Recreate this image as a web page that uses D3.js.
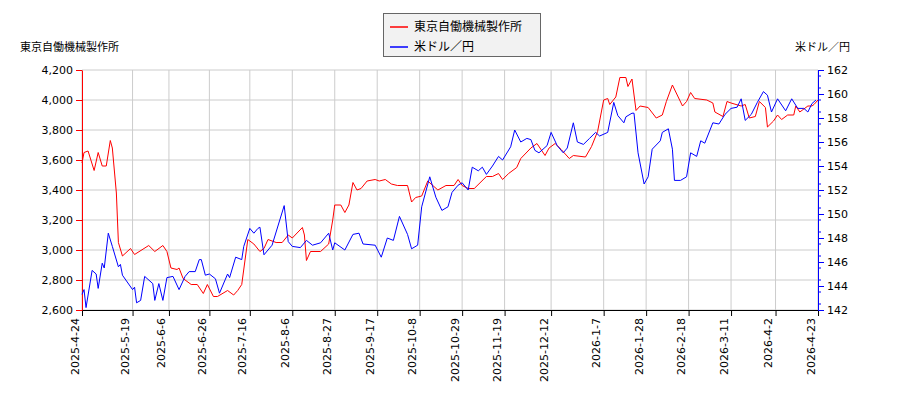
<!DOCTYPE html>
<html><head><meta charset="utf-8">
<script src="https://cdn.jsdelivr.net/npm/d3@7"></script>
<style>body{margin:0;background:#fff;font-family:"Noto Sans CJK JP","DejaVu Sans",sans-serif;}</style>
</head><body><svg id="c" width="900" height="400"></svg>
<script>
// days since 2025-04-24
var stockDays = [0,1,3,6,8,10,12,14,15,17,18,20,24,26,33,36,40,42,44,47,48,50,54,57,60,62,65,67,72,75,77,79,82,85,88,90,92,96,99,102,104,109,110,111,113,118,122,124,125,128,130,132,134,136,138,141,145,147,150,153,156,161,163,165,168,171,176,180,182,184,186,188,191,194,200,203,206,208,211,215,217,222,225,229,231,234,237,241,243,249,252,255,258,260,261,264,266,269,270,272,274,276,280,284,287,289,292,297,299,301,303,309,312,313,317,319,321,326,328,330,333,335,338,339,342,344,346,349,352,353,355,359,361,362,364];
var stockVals = [3580,3650,3660,3530,3650,3560,3560,3730,3680,3380,3050,2960,3010,2970,3030,2990,3030,2990,2880,2870,2880,2810,2770,2770,2710,2770,2690,2690,2730,2700,2730,2770,3070,3040,2990,3010,3070,3050,3050,3100,3080,3150,3100,2930,2990,2990,3040,3200,3300,3300,3250,3300,3450,3400,3410,3460,3470,3460,3470,3440,3430,3430,3320,3350,3360,3460,3400,3430,3430,3430,3470,3430,3410,3410,3490,3490,3510,3470,3510,3550,3610,3680,3710,3630,3680,3710,3670,3610,3630,3620,3690,3790,4000,4010,3970,4020,4150,4150,4090,4140,3930,3960,3950,3880,3900,3990,4100,3960,3990,4050,4010,4000,3980,3920,3890,3990,3980,3960,3970,3880,3890,3990,3950,3820,3860,3900,3870,3900,3900,3960,3920,3960,3960,3970,4000];
var fxDays = [0,1,2,5,7,8,10,11,13,15,18,19,20,25,26,27,29,31,35,36,38,40,42,45,48,51,53,56,58,59,61,63,66,68,72,73,76,79,80,83,85,87,88,90,94,96,100,102,104,108,111,114,118,122,124,125,130,134,137,139,145,148,151,154,157,161,163,166,168,172,175,178,181,183,186,188,191,193,196,198,200,203,206,208,212,214,217,220,222,224,226,230,232,235,238,240,243,245,248,251,254,256,260,263,265,268,269,272,273,275,278,280,282,286,287,290,292,293,296,299,301,304,306,308,312,315,318,321,324,326,328,331,334,337,339,341,344,348,351,354,357,359,361,363];
var fxVals = [143.3,143.7,142.2,145.3,145.0,143.8,145.9,145.5,148.4,147.3,145.6,145.8,144.9,143.7,143.9,142.6,142.8,144.8,144.2,142.8,144.2,142.8,144.7,144.8,143.7,144.8,145.2,145.2,146.2,146.2,144.9,145.0,144.6,143.4,145.0,144.7,146.4,146.2,147.3,148.8,148.4,148.8,148.9,146.6,147.4,148.5,150.7,147.7,147.3,147.2,147.8,147.4,147.6,148.4,147.0,147.6,147.0,148.3,148.4,147.5,147.4,146.4,148.0,147.8,149.8,148.3,147.1,147.4,150.6,153.1,151.4,150.3,150.6,151.8,152.4,152.6,152.0,153.9,153.6,153.9,153.3,154.0,154.8,154.5,155.6,157.0,156.0,156.3,156.2,155.3,155.1,155.7,156.8,155.7,155.1,155.5,157.6,156.0,155.8,156.3,156.8,156.5,156.8,159.3,158.2,157.6,158.1,158.4,158.4,155.1,152.5,153.1,155.4,156.1,156.8,157.1,155.4,152.8,152.8,153.1,155.1,154.8,156.1,155.9,157.6,157.5,158.3,158.8,158.9,159.6,157.8,158.3,159.3,160.2,159.9,158.5,159.6,158.6,159.6,158.8,158.8,158.5,159.2,159.5];
var leftTicks = [2600,2800,3000,3200,3400,3600,3800,4000,4200];
var rightTicks = [142,144,146,148,150,152,154,156,158,160,162];
var xTickLabels = ["2025-4-24","2025-5-19","2025-6-6","2025-6-26","2025-7-16","2025-8-6","2025-8-27","2025-9-17","2025-10-8","2025-10-29","2025-11-19","2025-12-12","2026-1-7","2026-1-28","2026-2-18","2026-3-11","2026-4-2","2026-4-23"];
var stockName = "東京自働機械製作所", fxName = "米ドル／円";

var start = new Date(2025,3,24);
var day = function(n){ return d3.timeDay.offset(start, n); };
var svg = d3.select("#c");
var L = 82, R = 818, T = 70, B = 310;
var x = d3.scaleLinear().domain([0,364]).range([L,R]);
var yL = d3.scaleLinear().domain([2600,4200]).range([B,T]);
var yR = d3.scaleLinear().domain([142,162]).range([B,T]);
var parse = d3.timeParse("%Y-%m-%d");
var xt = xTickLabels.map(function(s){ return d3.timeDay.count(start, parse(s)); });

// grid
svg.append("g").selectAll("line").data(xt).enter().append("line")
  .attr("x1", function(d){return x(d);}).attr("x2", function(d){return x(d);})
  .attr("y1", T).attr("y2", B).attr("stroke", "#ccc");
svg.append("g").selectAll("line").data(leftTicks).enter().append("line")
  .attr("x1", L).attr("x2", R).attr("y1", function(d){return yL(d);}).attr("y2", function(d){return yL(d);})
  .attr("stroke", "#ccc");

// axes
var ax = svg.append("g").attr("transform","translate(0,"+B+")")
  .call(d3.axisBottom(x).tickValues(xt).tickFormat(function(d,i){return xTickLabels[i];}).tickSizeOuter(0));
ax.selectAll("text").attr("transform","rotate(-90)").attr("text-anchor","end").attr("x",-8).attr("y",-4).attr("dy",0);
var al = svg.append("g").attr("transform","translate("+L+",0)").call(d3.axisLeft(yL).tickValues(leftTicks).tickSizeOuter(0));
al.select(".domain").attr("stroke","red"); al.selectAll("line").attr("stroke","red");
var ar = svg.append("g").attr("transform","translate("+R+",0)").call(d3.axisRight(yR).tickValues(rightTicks).tickSizeOuter(0));
ar.select(".domain").attr("stroke","blue"); ar.selectAll("line").attr("stroke","blue");
svg.selectAll(".tick text").attr("font-size",11).attr("fill","#000").attr("font-family","DejaVu Sans");
// minor ticks on right
svg.append("g").selectAll("line").data(d3.range(142,162,1)).enter().append("line")
  .attr("x1",R).attr("x2",R+3).attr("y1",function(d){return yR(d+0.5)+0;}).attr("y2",function(d){return yR(d+0.5);}).attr("stroke","blue");

// lines
var lineS = d3.line().x(function(d,i){return x(stockDays[i]);}).y(function(d){return yL(d);});
var lineF = d3.line().x(function(d,i){return x(fxDays[i]);}).y(function(d){return yR(d);});
svg.append("path").datum(stockVals).attr("d",lineS).attr("fill","none").attr("stroke","red").attr("stroke-width",1);
svg.append("path").datum(fxVals).attr("d",lineF).attr("fill","none").attr("stroke","blue").attr("stroke-width",1);

// labels
svg.append("text").attr("x",20).attr("y",51).attr("font-size",11).text(stockName);
svg.append("text").attr("x",850).attr("y",51).attr("font-size",11).attr("text-anchor","end").text(fxName);

// legend
var lg = svg.append("g");
lg.append("rect").attr("x",383.5).attr("y",13.5).attr("width",157).attr("height",43).attr("fill","#f2f2f2").attr("stroke","#666");
[[stockName,"red"],[fxName,"blue"]].forEach(function(e,i){
  lg.append("line").attr("x1",390).attr("x2",408).attr("y1",27+i*20).attr("y2",27+i*20).attr("stroke",e[1]).attr("stroke-width",1.5);
  lg.append("text").attr("x",414).attr("y",31+i*20).attr("font-size",12).text(e[0]);
});
</script></body></html>
